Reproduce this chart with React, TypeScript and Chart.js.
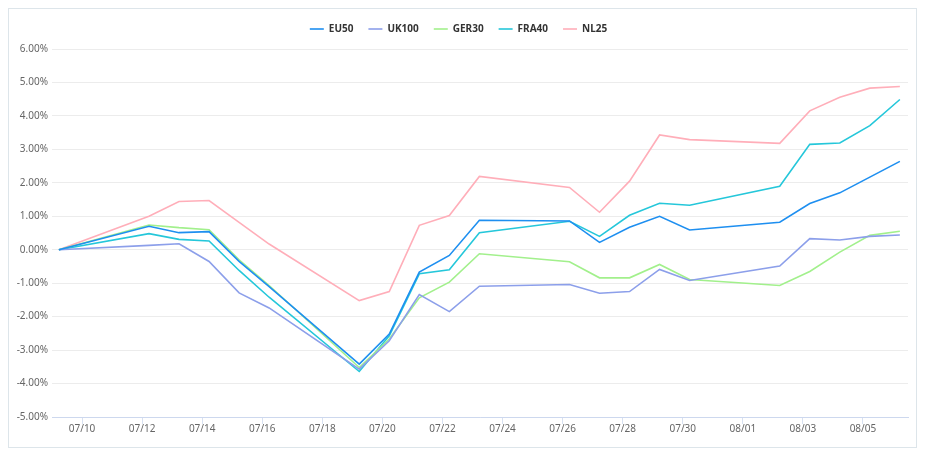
import React, { useEffect, useRef } from "react";
import { Chart, registerables } from "chart.js";

Chart.register(...registerables);

const dates = [
  "07/09", "07/12", "07/13", "07/14", "07/15", "07/16",
  "07/19", "07/20", "07/21", "07/22", "07/23",
  "07/26", "07/27", "07/28", "07/29", "07/30",
  "08/02", "08/03", "08/04", "08/05", "08/06",
];

const xTickLabels = [
  "07/10", "07/12", "07/14", "07/16", "07/18", "07/20", "07/22",
  "07/24", "07/26", "07/28", "07/30", "08/01", "08/03", "08/05",
];

const yTickValues = [6, 5, 4, 3, 2, 1, 0, -1, -2, -3, -4, -5];

const seriesNames = ["EU50", "UK100", "GER30", "FRA40", "NL25"];

const eu50 = [0, 0.7, 0.51, 0.54, -0.35, -1.1, -3.42, -2.52, -0.67, -0.17, 0.88, 0.86, 0.22, 0.67, 1.0, 0.59, 0.82, 1.38, 1.7, 2.17, 2.64];
const uk100 = [0, 0.13, 0.18, -0.35, -1.29, -1.74, -3.57, -2.72, -1.34, -1.85, -1.09, -1.04, -1.3, -1.25, -0.59, -0.92, -0.49, 0.33, 0.29, 0.4, 0.44];
const ger30 = [0, 0.74, 0.66, 0.6, -0.3, -1.07, -3.52, -2.67, -1.44, -0.97, -0.12, -0.36, -0.84, -0.84, -0.44, -0.89, -1.07, -0.65, -0.07, 0.43, 0.55];
const fra40 = [0, 0.48, 0.31, 0.26, -0.62, -1.42, -3.64, -2.57, -0.72, -0.6, 0.51, 0.85, 0.4, 1.03, 1.39, 1.33, 1.9, 3.15, 3.19, 3.71, 4.49];
const nl25 = [0, 1.0, 1.44, 1.47, 0.82, 0.17, -1.52, -1.25, 0.73, 1.02, 2.19, 1.86, 1.12, 2.05, 3.43, 3.29, 3.18, 4.15, 4.56, 4.83, 4.88];

const seriesValues = [eu50, uk100, ger30, fra40, nl25];
const seriesColors = ["#1e8ff0", "#8c9fea", "#a2f08c", "#25c7da", "#ffaeb9"];

const YEAR = 2021;
const BASE = Date.UTC(YEAR, 6, 9);
const TZ_SHIFT = 5.5 / 24;
function dayIndex(label: string): number {
  const [m, d] = label.split("/").map(Number);
  return (Date.UTC(YEAR, m - 1, d) - BASE) / 86400000;
}

const FONT = "'Noto Sans', 'DejaVu Sans', sans-serif";

export default function App() {
  const canvasRef = useRef<HTMLCanvasElement | null>(null);

  useEffect(() => {
    if (!canvasRef.current) return;
    const legendSpacer = {
      id: "legendSpacer",
      beforeInit(chart: any) {
        const legend = chart.legend;
        if (!legend) return;
        const orig = legend.fit;
        legend.fit = function () {
          orig.call(this);
          this.height = 40;
        };
      },
    };
    const chart = new Chart(canvasRef.current, {
      type: "line",
      data: {
        datasets: seriesNames.map((name, s) => ({
          label: name,
          data: dates.map((d, i) => ({ x: dayIndex(d) + TZ_SHIFT, y: seriesValues[s][i] })),
          borderColor: seriesColors[s],
          backgroundColor: seriesColors[s],
          borderWidth: 1.6,
          pointRadius: 0,
          pointHoverRadius: 0,
          tension: 0,
          fill: false,
        })),
      },
      options: {
        animation: false,
        responsive: true,
        maintainAspectRatio: false,
        layout: { padding: { top: 0, right: 8, left: 0, bottom: 0 } },
        plugins: {
          tooltip: { enabled: false },
          legend: {
            position: "top",
            align: "center",
            labels: {
              usePointStyle: true,
              pointStyle: "line",
              pointStyleWidth: 14,
              padding: 15,
              color: "#333",
              font: { family: FONT, size: 10, weight: "bold" },
            },
          },
        },
        scales: {
          x: {
            type: "linear",
            min: 0,
            max: 28.5,
            afterBuildTicks(scale: any) {
              scale.ticks = xTickLabels.map((l) => ({ value: dayIndex(l) }));
            },
            afterFit(scale: any) {
              scale.height = 30;
            },
            ticks: {
              autoSkip: false,
              maxRotation: 0,
              padding: -1,
              color: "#666",
              font: { family: FONT, size: 10 },
              callback: (_v: any, i: number) => xTickLabels[i],
            },
            grid: {
              drawOnChartArea: false,
              drawTicks: true,
              tickLength: 7,
              color: "#d8e1f1",
              tickColor: "#d8e1f1",
            },
            border: { display: true, color: "#cdd8ee", width: 1 },
          },
          y: {
            type: "linear",
            min: -5,
            max: 6,
            afterBuildTicks(scale: any) {
              scale.ticks = yTickValues.map((v) => ({ value: v }));
            },
            afterFit(scale: any) {
              scale.width = 43;
            },
            ticks: {
              padding: 4,
              color: "#666",
              font: { family: FONT, size: 10 },
              callback: (v: any) => Number(v).toFixed(2) + "%",
            },
            grid: { drawTicks: false, color: "#ececec" },
            border: { display: false },
          },
        },
      },
      plugins: [legendSpacer],
    } as any);
    return () => chart.destroy();
  }, []);

  return (
    <div
      style={{
        height: 440,
        border: "1px solid #dde5ea",
        boxSizing: "border-box",
        position: "relative",
        background: "#fff",
      }}
    >
      <div style={{ position: "absolute", inset: 0 }}>
        <canvas ref={canvasRef} />
      </div>
    </div>
  );
}
